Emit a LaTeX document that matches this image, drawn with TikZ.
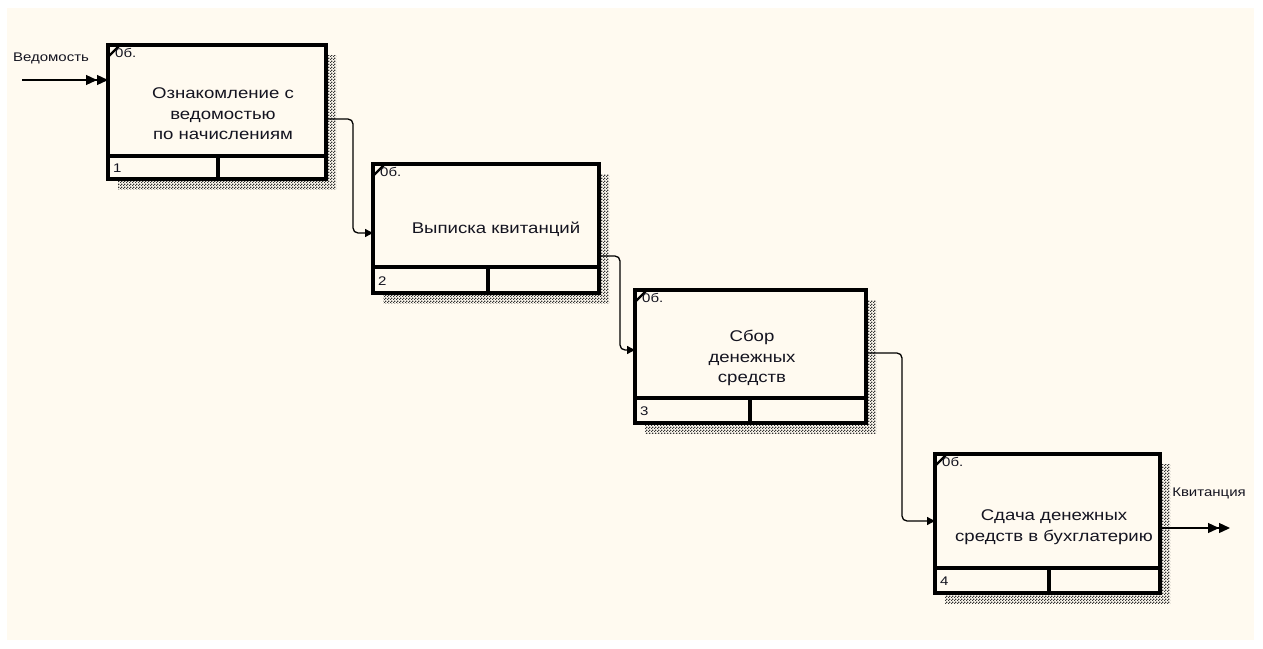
\documentclass[tikz,border=0pt]{standalone}
\usepackage{fontspec}
\setmainfont{Liberation Sans}[FakeStretch=1.2]
\usetikzlibrary{patterns,arrows.meta,calc}

\definecolor{paper}{HTML}{FFFAF0}
\definecolor{ink}{HTML}{141420}

% fine checkered dots used for the drop shadows
\pgfdeclarepatternformonly{shadowdots}{\pgfqpoint{0pt}{0pt}}{\pgfqpoint{3pt}{3pt}}{\pgfqpoint{3pt}{3pt}}{%
  \pgfpathrectangle{\pgfqpoint{0pt}{0pt}}{\pgfqpoint{1.5pt}{1.5pt}}%
  \pgfpathrectangle{\pgfqpoint{1.5pt}{1.5pt}}{\pgfqpoint{1.5pt}{1.5pt}}%
  \pgfusepath{fill}}

% activity box: name, left, top, right, bottom, divider y, split x, number
\newcommand\activitybox[8]{%
  \fill[pattern=shadowdots, pattern color=black!80] ({#2+10},{#3+10}) rectangle ({#4+10},{#5+10});
  \node[boxframe, minimum width={#4-#2}, minimum height={#5-#3}] (#1) at (#2,#3) {};
  \draw[boxline] (#1.west |- 0,#6) -- (#1.east |- 0,#6);
  \draw[boxline] (#7,#6) -- (#7,#5);
  \draw[line width=2.4pt] (#2,{#3+12}) -- ({#2+12},#3);
  \node[smalltxt, anchor=north west] (#1ref) at ({#2+7},{#3+3}) {0б.};
  \node[smalltxt, anchor=west] (#1num) at ({#2+5},{(#6+#5)/2+1}) {#8};
}

\begin{document}
\begin{tikzpicture}[x=1pt, y=-1pt,
  boxframe/.style={draw=black, line width=3.2pt, fill=paper, anchor=north west, inner sep=0pt, outer sep=0pt},
  boxline/.style={draw=black, line width=3.2pt},
  maintxt/.style={text=ink, font=\fontsize{15.5}{20.5}\selectfont, align=center, inner sep=0pt},
  smalltxt/.style={text=ink, font=\fontsize{12.5}{14}\selectfont, inner sep=0pt},
  flow/.style={draw=black, line width=1.3pt, rounded corners=5pt},
  tip/.style={-{Triangle[length=8pt,width=8pt]}},
  dbltip/.style={-{Triangle[length=11pt,width=10pt] Triangle[length=11pt,width=10pt]}}]

  \useasboundingbox (0,0) rectangle (1263,648);
  \fill[white] (0,0) rectangle (1263,648);
  \fill[paper] (7,8) rectangle (1254,640);

  % the four activities
  \activitybox{b1}{108}{45}{326}{179}{156}{218}{1}
  \activitybox{b2}{373}{164}{599}{293}{267}{488}{2}
  \activitybox{b3}{635}{290}{866}{423}{398}{750}{3}
  \activitybox{b4}{935}{454}{1160}{593}{568}{1049}{4}

  \node[maintxt] (t1) at (223,114) {Ознакомление с\\ведомостью\\по начислениям};
  \node[maintxt] (t2) at (496,229) {Выписка квитанций};
  \node[maintxt] (t3) at (752,358) {Сбор\\денежных\\средств};
  \node[maintxt] (t4) at (1054,527) {Сдача денежных\\средств в бухглатерию};

  % boundary arrows
  \coordinate (src) at (22,80);
  \coordinate (snk) at (1230,528);
  \node[smalltxt] (lin) at (51,58) {Ведомость};
  \node[smalltxt] (lout) at (1209,493) {Квитанция};
  \draw[flow, dbltip] (src) -- ($(b1.north west)+(0,35)$);
  \draw[flow, dbltip] ($(b4.north east)+(0,74)$) -- (snk);

  % links between activities
  \draw[flow, tip] ($(b1.north east)+(0,74)$) -| (353,233) -- ($(b2.north west)+(0,69)$);
  \draw[flow, tip] ($(b2.north east)+(0,92)$) -| (620,350) -- ($(b3.north west)+(0,60)$);
  \draw[flow, tip] ($(b3.north east)+(0,63)$) -| (902,521) -- ($(b4.north west)+(0,67)$);
\end{tikzpicture}
\end{document}
